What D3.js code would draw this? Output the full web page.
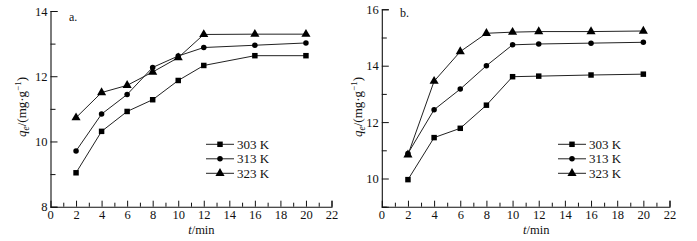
<!DOCTYPE html>
<html><head><meta charset="utf-8">
<script src="https://cdn.jsdelivr.net/npm/d3@7"></script>
<style>body{margin:0;background:#fff}svg{display:block}svg text{font-family:"Liberation Serif","Times New Roman","DejaVu Serif",serif !important;fill:#111}</style>
</head><body><svg id="c" width="697" height="241"></svg>
<script>
const times = [2, 4, 6, 8, 10, 12, 16, 20];
const seriesNames = ["303 K", "313 K", "323 K"];
const markers = ["square", "circle", "triangle"];
// Panel a
const a303 = [9.04, 10.31, 10.92, 11.28, 11.87, 12.33, 12.63, 12.63];
const a313 = [9.71, 10.84, 11.44, 12.27, 12.62, 12.88, 12.95, 13.02];
const a323 = [10.73, 11.50, 11.72, 12.13, 12.57, 13.28, 13.29, 13.29];
// Panel b
const b303 = [9.96, 11.45, 11.78, 12.60, 13.61, 13.63, 13.67, 13.70];
const b313 = [10.89, 12.44, 13.17, 14.00, 14.74, 14.77, 14.80, 14.83];
const b323 = [10.84, 13.45, 14.50, 15.15, 15.19, 15.21, 15.21, 15.23];
const xTicks = d3.range(0, 23, 2);
const aYTicks = [8, 10, 12, 14];
const bYTicks = [10, 12, 14, 16];

const svg = d3.select("#c");
const FONT = '"Liberation Serif", "Times New Roman", serif';

function panel(cfg) {
  const x = d3.scaleLinear().domain([0, 22]).range(cfg.xr);
  const y = d3.scaleLinear().domain(cfg.yd).range([206.7, cfg.ytop]);
  const g = svg.append("g").attr("font-family", FONT);
  // x axis
  const xa = g.append("g").attr("transform", `translate(0,${y(cfg.yd[0])})`)
    .call(d3.axisBottom(x).tickValues(d3.range(1, 23)).tickSize(-6).tickPadding(6)
      .tickFormat(d => d % 2 === 0 ? d : ""));
  xa.selectAll(".tick line").attr("y2", d => d % 2 === 0 ? -6 : -4);
  xa.append("text").attr("x", x(0)).attr("dy", "0.71em").attr("text-anchor", "middle").text("0");
  // y axis
  const ya = g.append("g").attr("transform", `translate(${x(0)},0)`)
    .call(d3.axisLeft(y).tickValues(d3.range(cfg.yd[0], cfg.yd[1] + 1)).tickSize(-7).tickPadding(3)
      .tickFormat(d => cfg.yTicks.includes(d) ? d : ""));
  ya.selectAll(".tick line").attr("x2", d => cfg.yTicks.includes(d) ? 7 : 5);
  [xa, ya].forEach(ax => {
    ax.attr("font-family", FONT).attr("font-size", 12.5);
    ax.select(".domain").attr("stroke", "#111").attr("stroke-width", 1.1);
    ax.selectAll(".tick line").attr("stroke", "#111");
    ax.selectAll("text").attr("font-size", 12.5).attr("fill", "#111").style("font-family", FONT);
  });
  xa.selectAll("text").attr("y", 3.5);
  // axis labels
  const xl = g.append("text").attr("x", (x(10) + x(13))/2 + 4).attr("y", 234)
    .attr("text-anchor", "middle").attr("font-size", 12.5).style("font-family", FONT);
  xl.append("tspan").attr("font-style", "italic").text("t");
  xl.append("tspan").text("/min");
  const yl = g.append("text").attr("transform", `translate(${cfg.ylx},107) rotate(-90)`)
    .attr("text-anchor", "middle").attr("font-size", 13).style("font-family", FONT);
  yl.append("tspan").attr("font-style", "italic").text("q");
  yl.append("tspan").attr("font-style", "italic").attr("font-size", 9.5).attr("dy", 3).text("e");
  yl.append("tspan").attr("dy", -3).text("/(mg·g");
  yl.append("tspan").attr("font-size", 9).attr("dy", -5).text("−1");
  yl.append("tspan").attr("dy", 5).text(")");
  g.append("text").attr("x", cfg.lab[0]).attr("y", cfg.lab[1]).attr("font-size", 12).style("font-family", FONT).text(cfg.label);

  const sym = {
    square: d3.symbol().type(d3.symbolSquare).size(30),
    circle: d3.symbol().type(d3.symbolCircle).size(24),
    triangle: d3.symbol().type(d3.symbolTriangle).size(36)
  };
  const line = d3.line().x((d, i) => x(times[i])).y(d => y(d));
  cfg.series.forEach((s, k) => {
    g.append("path").attr("d", line(s)).attr("fill", "none").attr("stroke", "#222").attr("stroke-width", 1);
    g.selectAll(null).data(s).enter().append("path")
      .attr("d", sym[markers[k]]())
      .attr("transform", (d, i) => `translate(${x(times[i])},${y(d)})`)
      .attr("fill", "#000");
  });
  // legend
  seriesNames.forEach((n, k) => {
    const ly = 144.3 + k * 14.5;
    g.append("line").attr("x1", cfg.leg).attr("x2", cfg.leg + 28).attr("y1", ly).attr("y2", ly)
      .attr("stroke", "#222").attr("stroke-width", 1);
    g.append("path").attr("d", sym[markers[k]]()).attr("transform", `translate(${cfg.leg + 14},${ly})`).attr("fill", "#000");
    g.append("text").attr("x", cfg.leg + 31).attr("y", ly + 4.5).attr("font-size", 13).style("font-family", FONT).text(n);
  });
}

panel({xr: [50.5, 331.5], yd: [8, 14], ytop: 11, yTicks: aYTicks,
  series: [a303, a313, a323], ylx: 26, lab: [69, 21], label: "a.", leg: 206});
panel({xr: [381.8, 669.5], yd: [9, 16], ytop: 9.3, yTicks: bYTicks,
  series: [b303, b313, b323], ylx: 362, lab: [400, 17], label: "b.", leg: 558});
</script></body></html>
